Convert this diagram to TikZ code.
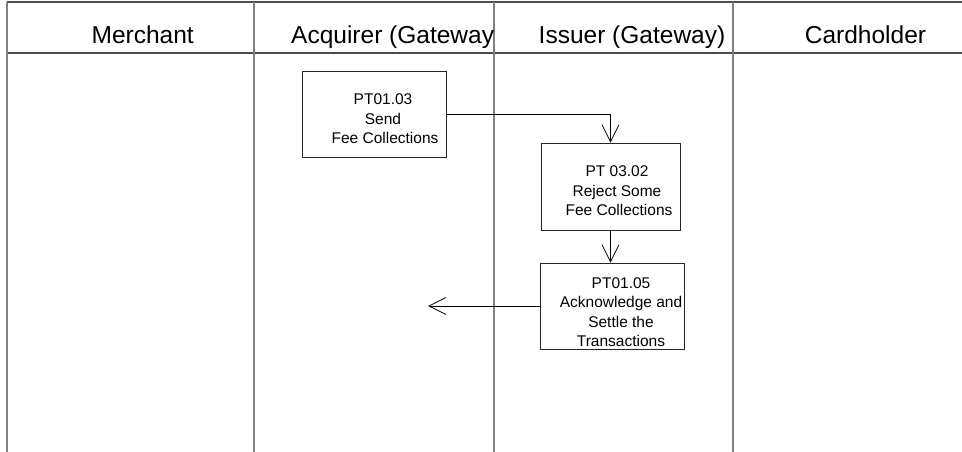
\documentclass[tikz,border=0pt]{standalone}
\usepackage{fontspec}
\setmainfont{Liberation Sans}
\usetikzlibrary{arrows.meta}
\begin{document}
\begin{tikzpicture}[x=1pt,y=-1pt,
  lane/.style={draw=black!50,line width=1.3pt},
  hrule/.style={draw=black!70,line width=1.1pt},
  head/.style={font=\fontsize{24.5}{28}\selectfont,anchor=base,inner sep=0pt},
  stepbox/.style={draw=black!85,line width=0.9pt,inner sep=0pt},
  steptext/.style={font=\fontsize{15.5}{19.5}\selectfont,align=center,inner sep=0pt},
  conn/.style={draw=black,line width=0.8pt,-{Straight Barb[length=17pt,width=17pt,line width=0.8pt]}}]
\path[fill=white,use as bounding box] (0,0) rectangle (962,452);
% header rules and lanes
\draw[hrule] (7,2) -- (962,2);
\draw[hrule] (7,53) -- (962,53);
\foreach \x in {7,254,494,733} \draw[lane] (\x,2) -- (\x,452);
% headers
\node[head] (hm) at (142.7,44) {Merchant};
\begin{scope}
\clip (254,3) rectangle (493,52);
\node[head,anchor=base west] (ha) at (291,44) {Acquirer (Gateway)};
\end{scope}
\node[head] (hi) at (632,44) {Issuer (Gateway)};
\node[head] (hc) at (865.5,44) {Cardholder};
% boxes
\node[stepbox,minimum width=144pt,minimum height=86pt] (b1) at (374,114) {};
\node[stepbox,minimum width=139pt,minimum height=87pt] (b2) at (610.5,186.5) {};
\node[stepbox,minimum width=144pt,minimum height=86pt] (b3) at (612,306) {};
\node[steptext] (t1) at (383,119) {PT01.03\\Send\\\hspace*{4pt}Fee Collections};
\node[steptext] (t2) at (617,191) {PT 03.02\\Reject Some\\\hspace*{4pt}Fee Collections};
\node[steptext] (t3) at (621,312) {PT01.05\\Acknowledge and\\Settle the\\Transactions};
% connectors
\coordinate (e3) at (428,306);
\draw[conn] (b1.east) -| (b2.north);
\draw[conn] (b2.south) -- (b2.south |- b3.north);
\draw[conn] (b3.west) -- (e3);
\end{tikzpicture}
\end{document}
